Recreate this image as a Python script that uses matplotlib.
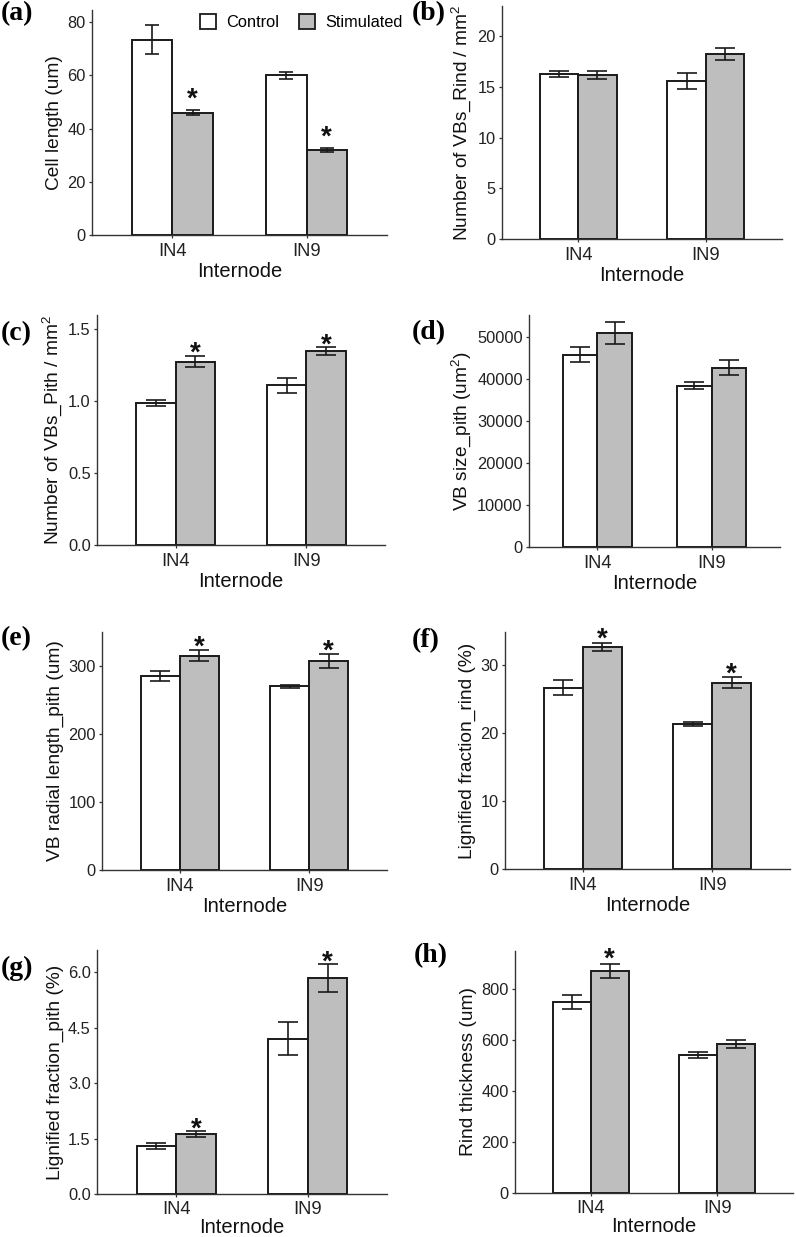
import matplotlib
matplotlib.use("Agg")
import matplotlib.pyplot as plt
from matplotlib.patches import Patch
import numpy as np

plt.rcParams['font.family'] = ['Liberation Sans', 'DejaVu Sans']
plt.rcParams['mathtext.fontset'] = 'custom'
plt.rcParams['mathtext.rm'] = 'Liberation Sans'
plt.rcParams['mathtext.it'] = 'Liberation Sans:italic'

# ---------------- data ----------------
internodes = ["IN4", "IN9"]
groups = ["Control", "Stimulated"]

cell_length_mean = [[73.5, 60.0], [46.0, 32.0]]
cell_length_se = [[5.5, 1.3], [1.0, 0.8]]
cell_length_sig = [[False, False], [True, True]]

vb_rind_mean = [[16.3, 15.6], [16.2, 18.3]]
vb_rind_se = [[0.3, 0.75], [0.4, 0.6]]
vb_rind_sig = [[False, False], [False, False]]

vb_pith_mean = [[0.99, 1.11], [1.275, 1.35]]
vb_pith_se = [[0.02, 0.055], [0.04, 0.025]]
vb_pith_sig = [[False, False], [True, True]]

vb_size_mean = [[45800, 38400], [50900, 42700]]
vb_size_se = [[1900, 900], [2700, 1800]]
vb_size_sig = [[False, False], [False, False]]

vb_radial_mean = [[285, 270], [315, 307]]
vb_radial_se = [[7, 2], [8, 10]]
vb_radial_sig = [[False, False], [True, True]]

lig_rind_mean = [[26.7, 21.4], [32.7, 27.4]]
lig_rind_se = [[1.1, 0.3], [0.6, 0.8]]
lig_rind_sig = [[False, False], [True, True]]

lig_pith_mean = [[1.30, 4.20], [1.63, 5.85]]
lig_pith_se = [[0.07, 0.45], [0.08, 0.38]]
lig_pith_sig = [[False, False], [True, True]]

rind_mean = [[750, 540], [872, 585]]
rind_se = [[28, 12], [28, 15]]
rind_sig = [[False, False], [True, False]]

panel_letters = ["(a)", "(b)", "(c)", "(d)", "(e)", "(f)", "(g)", "(h)"]
ylabels = ["Cell length (um)",
           "Number of VBs_Rind / mm$^2$",
           "Number of VBs_Pith / mm$^2$",
           "VB size_pith (um$^2$)",
           "VB radial length_pith (um)",
           "Lignified fraction_rind (%)",
           "Lignified fraction_pith (%)",
           "Rind thickness (um)"]
yticks_list = [[0, 20, 40, 60, 80],
               [0, 5, 10, 15, 20],
               [0.0, 0.5, 1.0, 1.5],
               [0, 10000, 20000, 30000, 40000, 50000],
               [0, 100, 200, 300],
               [0, 10, 20, 30],
               [0.0, 1.5, 3.0, 4.5, 6.0],
               [0, 200, 400, 600, 800]]
ytick_fmt = ["{:.0f}", "{:.0f}", "{:.1f}", "{:.0f}", "{:.0f}", "{:.0f}", "{:.1f}", "{:.0f}"]
ymax_list = [84.6, 23.0, 1.6, 55200, 350, 34.9, 6.6, 950]

means = [cell_length_mean, vb_rind_mean, vb_pith_mean, vb_size_mean,
         vb_radial_mean, lig_rind_mean, lig_pith_mean, rind_mean]
ses = [cell_length_se, vb_rind_se, vb_pith_se, vb_size_se,
       vb_radial_se, lig_rind_se, lig_pith_se, rind_se]
sigs = [cell_length_sig, vb_rind_sig, vb_pith_sig, vb_size_sig,
        vb_radial_sig, lig_rind_sig, lig_pith_sig, rind_sig]

# ---------------- layout (pixels) ----------------
W, H = 796, 1237
fig = plt.figure(figsize=(W / 100, H / 100), dpi=100)

# left, right, top, bottom in pixels
boxes = [(92, 387, 10, 235), (502, 782, 6, 239),
         (97, 385, 315, 545), (529, 780, 315, 547),
         (102, 387, 632, 870), (505, 790, 632, 869),
         (97, 387, 950, 1194), (515, 793, 951, 1193)]
letter_pos = [(1, 14), (412, 14), (1, 334), (412, 333),
              (1, 639), (412, 641), (1, 968), (414, 956)]
capsizes = [5.0, 7.2, 7.2, 7.2, 7.2, 7.2, 7.2, 7.2]
star_px = [19, 11, 11, 11, 12, 12, 10, 13]
xlabel_pads = [2, 2, 2, 2, 2, 2, 0, 0]
xtick_pads = [3, 3, 3, 3, 3, 3, 2.5, 2.5]

fills = ["white", "#bebebe"]
edge = "#1a1a1a"
axcol = "#333333"
bar_w = 0.3
star_fs = 20

for i in range(8):
    l, r, t, b = boxes[i]
    ax = fig.add_axes([l / W, 1 - b / H, (r - l) / W, (b - t) / H])
    x = np.arange(1, len(internodes) + 1)
    for g in range(2):
        xpos = x + (g - 0.5) * bar_w
        ax.bar(xpos, means[i][g], width=bar_w, color=fills[g],
               edgecolor=edge, linewidth=1.4, zorder=2)
        ax.errorbar(xpos, means[i][g], yerr=ses[i][g], fmt='none',
                    ecolor=edge, elinewidth=1.2, capsize=capsizes[i],
                    capthick=1.2, zorder=3)
        for k in range(len(internodes)):
            if sigs[i][g][k]:
                top = means[i][g][k] + ses[i][g][k]
                off = star_px[i] - 0.575 * star_fs * 100 / 72
                ax.annotate("*", xy=(xpos[k], top),
                            xytext=(0, off * 72 / 100),
                            textcoords="offset points", ha="center",
                            va="baseline", fontsize=star_fs,
                            fontweight="bold", color="#111111")
    ax.set_xlim(0.4, 2.6)
    ax.set_ylim(0, ymax_list[i])
    ax.set_xticks(x)
    ax.set_xticklabels(internodes, fontsize=13.2, color="#222222")
    ax.set_yticks(yticks_list[i])
    ax.set_yticklabels([ytick_fmt[i].format(v) for v in yticks_list[i]],
                       fontsize=11.8, color="#222222")
    ax.set_xlabel("Internode", fontsize=14.5, labelpad=xlabel_pads[i],
                  color="#111111")
    ax.set_ylabel(ylabels[i], fontsize=13.8, labelpad=3, color="#111111")
    for s in ["top", "right"]:
        ax.spines[s].set_visible(False)
    for s in ["left", "bottom"]:
        ax.spines[s].set_color(axcol)
        ax.spines[s].set_linewidth(1.0)
        ax.spines[s].set_zorder(4)
    ax.tick_params(axis="both", length=2.5, width=0.9, color=axcol, pad=2)
    ax.tick_params(axis="x", pad=xtick_pads[i])
    fig.text(letter_pos[i][0] / W, 1 - letter_pos[i][1] / H, panel_letters[i],
             fontsize=20, fontweight="bold", family="Liberation Serif",
             ha="left", va="center")
    if i == 0:
        handles = [Patch(facecolor=fills[0], edgecolor=edge, linewidth=1.3),
                   Patch(facecolor=fills[1], edgecolor=edge, linewidth=1.3)]
        ax.legend(handles, groups, loc="center left", ncol=2,
                  bbox_to_anchor=(200 / W, 1 - 22 / H),
                  bbox_transform=fig.transFigure, frameon=False,
                  fontsize=11.8, handlelength=1.0, handleheight=1.0,
                  handletextpad=0.6, columnspacing=1.2, borderpad=0,
                  borderaxespad=0)

fig.savefig("out.png", dpi=100)
